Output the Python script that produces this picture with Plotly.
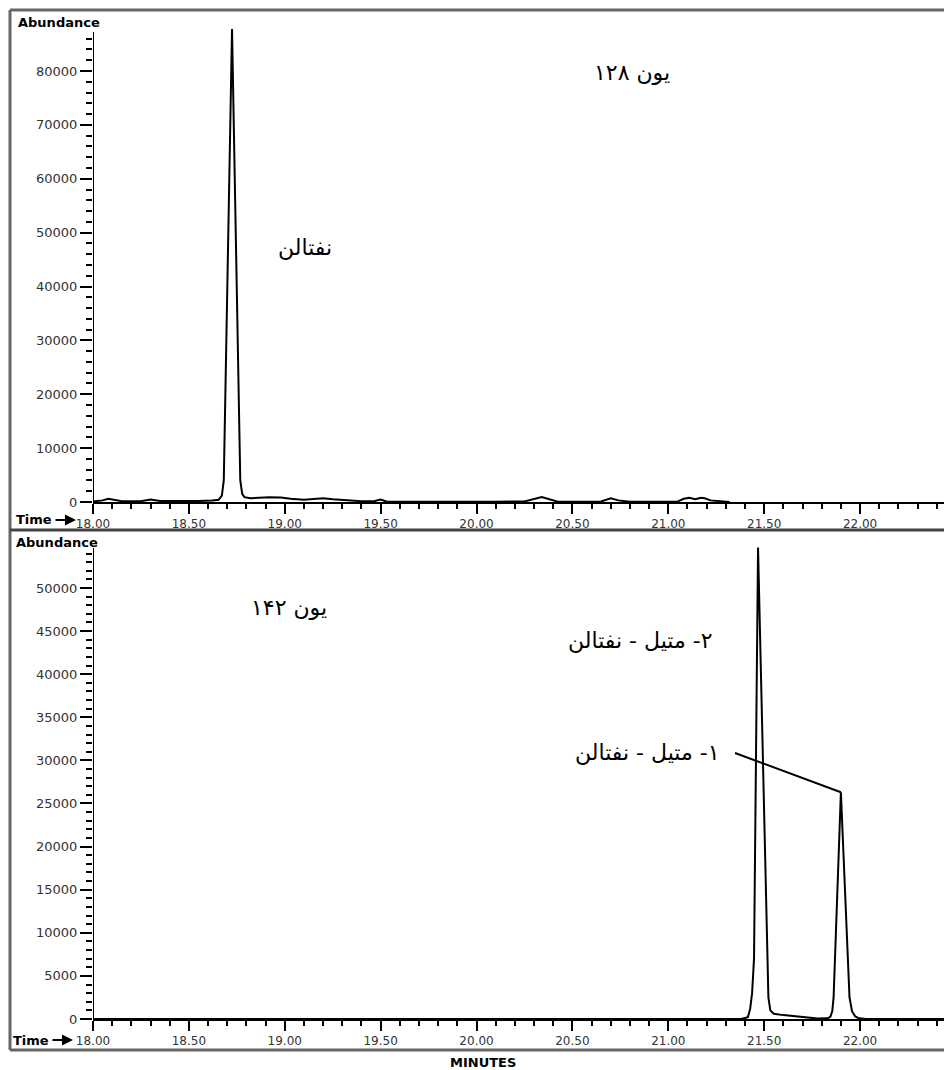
import plotly.graph_objects as go

# ---------------- data ----------------
# Ion 128 chromatogram (time in minutes, abundance)
t128 = [18.00, 18.05, 18.08, 18.11, 18.15, 18.25, 18.30, 18.35, 18.45, 18.55, 18.62,
        18.655, 18.672, 18.682, 18.725, 18.768, 18.778, 18.79, 18.82, 18.87, 18.92,
        18.98, 19.03, 19.10, 19.16, 19.20, 19.25, 19.32, 19.40, 19.47, 19.50, 19.53,
        19.70, 19.90, 20.10, 20.25, 20.30, 20.34, 20.38, 20.42, 20.55, 20.65, 20.70,
        20.74, 20.80, 20.95, 21.05, 21.08, 21.11, 21.14, 21.17, 21.19, 21.22, 21.27,
        21.32]
a128 = [100, 300, 600, 400, 150, 150, 450, 200, 150, 200, 300,
        400, 1200, 4000, 87800, 4000, 1500, 900, 700, 800, 900,
        850, 600, 400, 600, 700, 500, 300, 150, 200, 450, 100,
        50, 50, 50, 100, 500, 900, 500, 100, 50, 100, 700,
        300, 50, 50, 100, 600, 800, 500, 800, 700, 300, 150,
        0]

# Ion 142 chromatogram
t142 = [18.00, 21.38, 21.415, 21.427, 21.437, 21.447, 21.468, 21.522, 21.532, 21.55,
        21.60, 21.66, 21.72, 21.78, 21.83, 21.845, 21.855, 21.862, 21.900, 21.945,
        21.958, 21.975, 21.99, 22.03, 22.46]
a142 = [0, 0, 200, 1200, 3000, 7000, 54700, 2500, 1000, 600,
        450, 300, 150, 50, 80, 250, 900, 2500, 26300, 2500,
        900, 300, 120, 0, 0]

# x-axis ticks
x_range = [18.0, 22.469]
x_tick_vals = [18.0, 18.5, 19.0, 19.5, 20.0, 20.5, 21.0, 21.5, 22.0]
x_tick_text = ["18.00", "18.50", "19.00", "19.50", "20.00", "20.50", "21.00", "21.50", "22.00"]

# labels (Persian)
RLM = "\u200F"
lbl_ion128 = RLM + "یون ۱۲۸"
lbl_naph = RLM + "نفتالن"
lbl_ion142 = RLM + "یون ۱۴۲"
lbl_2mn = RLM + "۲- متیل - نفتالن"
lbl_1mn = RLM + "۱- متیل - نفتالن"

# label anchor positions (time, abundance)
pos_ion128 = (20.81, 79800)
pos_naph = (19.106, 47300)
pos_ion142 = (19.02, 47700)
pos_2mn = (20.853, 43900)
pos_1mn = (20.89, 30860)
leader_start = (21.348, 30860)

# ---------------- geometry ----------------
W, H = 952, 1070
OFF = 8  # page body margin
def px(x):
    return (x - OFF) / W
def py(y):
    return 1 - (y - OFF) / H

TOP_SCALE = 5.3875   # px per 1000 abundance (top)
BOT_SCALE = 8.62     # px per 1000 abundance (bottom)
top_range = [0, 87990]
bot_range = [0, 54990]
top_dom_top = 502 - top_range[1] / 1000 * TOP_SCALE
bot_dom_top = 1019 - bot_range[1] / 1000 * BOT_SCALE
top_axis_top = (502 - 32) / TOP_SCALE * 1000
bot_axis_top = (1019 - 548) / BOT_SCALE * 1000

FONT = "DejaVu Sans"
line_style = dict(color="black", width=2)

fig = go.Figure()
fig.add_trace(go.Scatter(x=t128, y=a128, mode="lines", line=line_style,
                         xaxis="x", yaxis="y", showlegend=False, hoverinfo="skip"))
fig.add_trace(go.Scatter(x=t142, y=a142, mode="lines", line=line_style,
                         xaxis="x2", yaxis="y2", showlegend=False, hoverinfo="skip"))

def xaxis_cfg(anchor):
    return dict(
        domain=[px(93), px(950)], range=x_range, anchor=anchor, automargin=False,
        showline=True, linecolor="black", linewidth=2,
        ticks="outside", ticklen=10, tickwidth=2, tickcolor="black",
        tickvals=x_tick_vals, ticktext=x_tick_text,
        tickfont=dict(family=FONT, size=12, color="#333"),
        minor=dict(dtick=0.1, tick0=18.0, ticks="outside", ticklen=5, tickwidth=2,
                   tickcolor="black", showgrid=False),
        showgrid=False, zeroline=False, fixedrange=True,
    )

def yaxis_cfg(anchor, dom, rng, dt, mdt):
    return dict(
        domain=dom, range=rng, anchor=anchor, automargin=False,
        showline=False,
        ticks="outside", ticklen=12, tickwidth=2, tickcolor="black",
        dtick=dt, tick0=0, tickformat="d",
        tickfont=dict(family=FONT, size=13, color="#333"),
        minor=dict(dtick=mdt, tick0=0, ticks="outside", ticklen=6, tickwidth=2,
                   tickcolor="black", showgrid=False),
        showgrid=False, zeroline=False, fixedrange=True,
    )

fig.update_layout(
    template="none",
    width=W, height=H, autosize=False,
    margin=dict(l=0, r=0, t=0, b=0, pad=0),
    paper_bgcolor="white", plot_bgcolor="white",
    showlegend=False,
    xaxis=xaxis_cfg("y"),
    yaxis=yaxis_cfg("x", [py(502), py(top_dom_top)], top_range, 10000, 2000),
    xaxis2=xaxis_cfg("y2"),
    yaxis2=yaxis_cfg("x2", [py(1019), py(bot_dom_top)], bot_range, 5000, 1000),
)

shapes = []
# y axis lines
shapes.append(dict(type="line", xref="x", yref="y", x0=x_range[0], x1=x_range[0],
                   y0=0, y1=top_axis_top, line=dict(color="black", width=2)))
shapes.append(dict(type="line", xref="x2", yref="y2", x0=x_range[0], x1=x_range[0],
                   y0=0, y1=bot_axis_top, line=dict(color="black", width=2)))
# frame
frame = dict(color="#666", width=3)
shapes.append(dict(type="line", xref="paper", yref="paper", x0=px(10), x1=1.01, y0=py(10), y1=py(10), line=frame))
shapes.append(dict(type="line", xref="paper", yref="paper", x0=px(10), x1=px(10), y0=py(10), y1=py(1050), line=frame))
shapes.append(dict(type="line", xref="paper", yref="paper", x0=px(10), x1=1.01, y0=py(530), y1=py(530), line=dict(color="#444", width=3)))
shapes.append(dict(type="line", xref="paper", yref="paper", x0=px(10), x1=1.01, y0=py(1050), y1=py(1050), line=frame))
# leader line to 1-methylnaphthalene peak
i_peak = max(range(len(t142)), key=lambda i: a142[i] if t142[i] > 21.7 else -1)
shapes.append(dict(type="line", xref="x2", yref="y2", x0=leader_start[0], y0=leader_start[1],
                   x1=t142[i_peak], y1=a142[i_peak], line=dict(color="black", width=2)))
fig.update_layout(shapes=shapes)

ann = []
def paper_text(text, x, y, xanchor="left", size=13, bold=True):
    t = f"<b>{text}</b>" if bold else text
    ann.append(dict(text=t, xref="paper", yref="paper", x=px(x), y=py(y),
                    xanchor=xanchor, yanchor="middle", showarrow=False,
                    font=dict(family=FONT, size=size, color="black")))

def time_arrow(x_text, x_tip, y):
    paper_text("Time", x_text, y)
    ann.append(dict(text="", xref="paper", yref="paper", x=px(x_tip), y=py(y),
                    ax=-22, ay=0, showarrow=True, arrowhead=2, arrowsize=1.1,
                    arrowwidth=2, arrowcolor="black", standoff=0))

paper_text("Abundance", 16, 22)
paper_text("Abundance", 14, 542)
time_arrow(14, 76, 520)
time_arrow(11, 73, 1040)
paper_text("MINUTES", 483, 1062, xanchor="center")

fa = dict(family=FONT, size=22, color="black")
def data_text(text, pos, xr, yr):
    ann.append(dict(text=text, xref=xr, yref=yr, x=pos[0], y=pos[1],
                    xanchor="center", yanchor="middle", showarrow=False, font=fa))

data_text(lbl_ion128, pos_ion128, "x", "y")
data_text(lbl_naph, pos_naph, "x", "y")
data_text(lbl_ion142, pos_ion142, "x2", "y2")
data_text(lbl_2mn, pos_2mn, "x2", "y2")
data_text(lbl_1mn, pos_1mn, "x2", "y2")
fig.update_layout(annotations=ann)

fig.write_html("out.html")
